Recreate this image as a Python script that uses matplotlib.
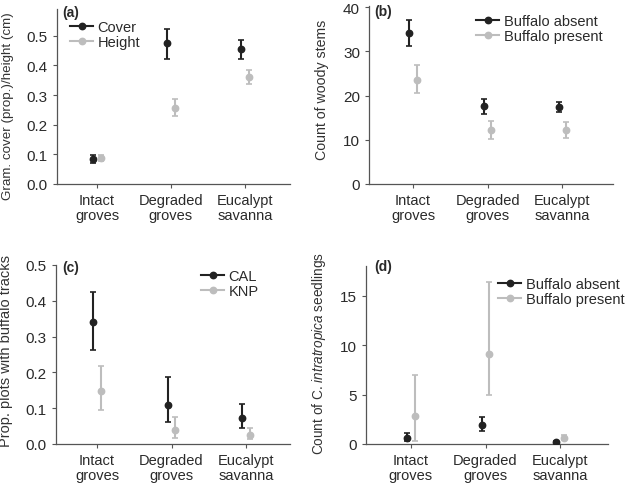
import matplotlib

matplotlib.use("Agg")
import matplotlib.pyplot as plt
from matplotlib.lines import Line2D
import numpy as np

plt.rcParams["font.family"] = ["Liberation Sans", "DejaVu Sans"]
plt.rcParams["mathtext.fontset"] = "custom"
plt.rcParams["mathtext.it"] = "Liberation Sans:italic"
plt.rcParams["mathtext.rm"] = "Liberation Sans"

categories = ["Intact\ngroves", "Degraded\ngroves", "Eucalypt\nsavanna"]

# (a) graminoid cover / height
cover_mean = [0.085, 0.475, 0.456]
cover_lo = [0.072, 0.423, 0.421]
cover_hi = [0.098, 0.522, 0.487]
height_mean = [0.088, 0.257, 0.360]
height_lo = [0.076, 0.229, 0.338]
height_hi = [0.097, 0.285, 0.383]

# (b) woody stems
stems_absent = [34.2, 17.6, 17.5]
stems_absent_lo = [31.3, 15.9, 16.4]
stems_absent_hi = [37.2, 19.3, 18.5]
stems_present = [23.6, 12.2, 12.2]
stems_present_lo = [20.6, 10.3, 10.4]
stems_present_hi = [26.9, 14.2, 14.0]

# (c) buffalo tracks
cal_mean = [0.340, 0.110, 0.074]
cal_lo = [0.263, 0.061, 0.044]
cal_hi = [0.424, 0.188, 0.113]
knp_mean = [0.148, 0.039, 0.026]
knp_lo = [0.096, 0.018, 0.013]
knp_hi = [0.218, 0.076, 0.045]

# (d) seedlings
seed_absent = [0.6, 1.9, 0.2]
seed_absent_lo = [0.34, 1.3, 0.1]
seed_absent_hi = [1.07, 2.7, 0.3]
seed_present = [2.85, 9.06, 0.6]
seed_present_lo = [0.27, 5.0, 0.37]
seed_present_hi = [7.0, 16.4, 0.94]

DARK = "#222222"
LIGHT = "#bdbdbd"
SPINE = "#555555"
TEXT = "#2a2a2a"
W, H = 626, 485


def px_axes(fig, left, right, top, bottom):
    return fig.add_axes([left / W, 1 - bottom / H, (right - left) / W, (bottom - top) / H])


def draw_series(ax, x, mean, lo, hi, color):
    mean = np.asarray(mean)
    yerr = [mean - np.asarray(lo), np.asarray(hi) - mean]
    ax.errorbar(x, mean, yerr=yerr, fmt="o", color=color, ecolor=color,
                markersize=4.6, elinewidth=1.5, capsize=2.2, capthick=1.2,
                zorder=3)


def style_axes(ax, xlim, ylim, yticks, yticklabels, ylabel, ylabel_size, label_xy):
    ax.set_xlim(*xlim)
    ax.set_ylim(*ylim)
    ax.set_xticks([1, 2, 3])
    ax.set_xticklabels(categories, fontsize=10.5, color=TEXT, linespacing=1.1)
    ax.set_yticks(yticks)
    ax.set_yticklabels(yticklabels, fontsize=11, color=TEXT)
    ax.set_ylabel(ylabel, fontsize=ylabel_size, color="#333333")
    ax.yaxis.set_label_coords(label_xy[0] / W, 1 - label_xy[1] / H,
                              transform=ax.figure.transFigure)
    for side in ("top", "right"):
        ax.spines[side].set_visible(False)
    for side in ("left", "bottom"):
        ax.spines[side].set_color(SPINE)
        ax.spines[side].set_linewidth(0.9)
    ax.tick_params(direction="out", length=3, width=0.8, color=SPINE, pad=3.5)


def add_legend(fig, labels, x, y):
    handles = [
        Line2D([], [], color=DARK, marker="o", markersize=4.6, linewidth=1.5),
        Line2D([], [], color=LIGHT, marker="o", markersize=4.6, linewidth=1.5),
    ]
    leg = fig.legend(handles, labels, loc="upper left", bbox_to_anchor=(x / W, 1 - y / H),
                     frameon=False, fontsize=10.5, handlelength=1.6, handletextpad=0.3,
                     borderaxespad=0, borderpad=0, labelspacing=0.1)
    for t in leg.get_texts():
        t.set_color(TEXT)


def add_tag(fig, tag, x, y):
    fig.text(x / W, 1 - y / H, tag, fontsize=10, fontweight="bold",
             ha="left", va="center", color=TEXT)


fig = plt.figure(figsize=(6.26, 4.85), dpi=100)
fig.patch.set_facecolor("white")
pos = np.arange(1, 4)
off = 0.05
dec_labels = ["0.0", "0.1", "0.2", "0.3", "0.4", "0.5"]

# (a)
ax = px_axes(fig, 57, 290, 10, 185)
draw_series(ax, pos - off, cover_mean, cover_lo, cover_hi, DARK)
draw_series(ax, pos + off, height_mean, height_lo, height_hi, LIGHT)
style_axes(ax, (0.46, 3.61), (0, 0.59), np.arange(0, 0.51, 0.1), dec_labels,
           "Gram. cover (prop.)/height (cm)", 9.6, (14, 106))
add_legend(fig, ["Cover", "Height"], 70, 21)
add_tag(fig, "(a)", 62, 13)

# (b)
ax = px_axes(fig, 369, 613, 7, 185)
draw_series(ax, pos - off, stems_absent, stems_absent_lo, stems_absent_hi, DARK)
draw_series(ax, pos + off, stems_present, stems_present_lo, stems_present_hi, LIGHT)
style_axes(ax, (0.41, 3.68), (0, 40.3), [0, 10, 20, 30, 40],
           ["0", "10", "20", "30", "40"], "Count of woody stems", 10.2, (329, 90))
add_legend(fig, ["Buffalo absent", "Buffalo present"], 476, 15)
add_tag(fig, "(b)", 374, 12)

# (c)
ax = px_axes(fig, 56, 290, 266, 445)
draw_series(ax, pos - off, cal_mean, cal_lo, cal_hi, DARK)
draw_series(ax, pos + off, knp_mean, knp_lo, knp_hi, LIGHT)
style_axes(ax, (0.45, 3.59), (0, 0.5), np.arange(0, 0.51, 0.1), dec_labels,
           "Prop. plots with buffalo tracks", 10.5, (13, 351))
add_legend(fig, ["CAL", "KNP"], 201, 270)
add_tag(fig, "(c)", 62, 268)

# (d)
ax = px_axes(fig, 366, 608, 267, 445)
draw_series(ax, pos - off, seed_absent, seed_absent_lo, seed_absent_hi, DARK)
draw_series(ax, pos + off, seed_present, seed_present_lo, seed_present_hi, LIGHT)
style_axes(ax, (0.40, 3.64), (0, 18), [0, 5, 10, 15], ["0", "5", "10", "15"],
           r"Count of C. $\it{intratropica}$ seedlings", 9.8, (328, 354))
add_legend(fig, ["Buffalo absent", "Buffalo present"], 498, 278)
add_tag(fig, "(d)", 374, 267)

fig.savefig("out.png", dpi=100)
plt.close(fig)
